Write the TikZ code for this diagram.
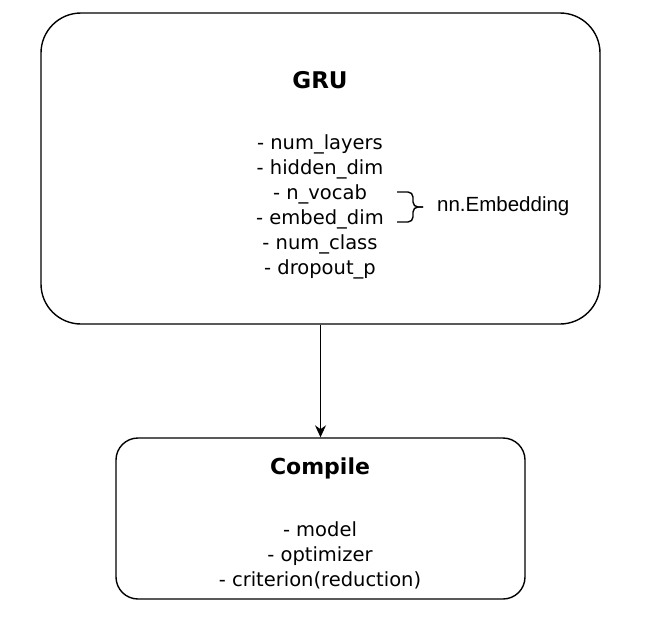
\documentclass[tikz,border=0pt]{standalone}
\usepackage{fontspec}
\setmainfont{DejaVu Sans}
\newfontfamily\labelfont{Liberation Sans}
\usetikzlibrary{arrows.meta}

\begin{document}
\begin{tikzpicture}
[every node/.style={inner sep=0pt}]
\useasboundingbox (0pt, 0pt) rectangle (659pt, -624pt);
\node (gru) [rectangle, rounded corners=40pt, minimum width=559pt, minimum height=311pt, line width=1.4pt, draw=black] at (320.5pt, -168.5pt) {};
\node (gruTitle) at (320pt, -80pt) {\fontsize{23pt}{27pt}\selectfont\bfseries GRU};
\node (gruParams) [align=center, font=\fontsize{19.5pt}{25pt}\selectfont] at (320pt, -207pt) {- num\_layers\\- hidden\_dim\\- n\_vocab\\- embed\_dim\\- num\_class\\- dropout\_p};
% curly bracket for the embedding params
\coordinate (braceTop) at (397pt, -192pt);
\coordinate (braceBot) at (397pt, -222pt);
\coordinate (braceTip) at (423pt, -207pt);
\draw [line width=1.4pt, rounded corners=5pt] (braceTop) -- (413pt, -192pt) -- (413pt, -207pt) -- (braceTip);
\draw [line width=1.4pt, rounded corners=5pt] (braceBot) -- (413pt, -222pt) -- (413pt, -207pt) -- (braceTip);
\node (embed) [anchor=west, font=\labelfont\fontsize{20.5pt}{24pt}\selectfont] at (437pt, -206pt) {nn.Embedding};
\node (compile) [rectangle, rounded corners=22pt, minimum width=409pt, minimum height=161pt, line width=1.4pt, draw=black] at (320.5pt, -518.5pt) {};
\node (compileTitle) at (320pt, -468pt) {\fontsize{22pt}{26pt}\selectfont\bfseries Compile};
\node (compileParams) [align=center, font=\fontsize{19.5pt}{25pt}\selectfont] at (320pt, -555pt) {- model\\- optimizer\\- criterion(reduction)};
\draw [line width=1.4pt, -{Stealth[length=12pt, width=11pt]}, color=black] (gru) to (compile);
\end{tikzpicture}
\end{document}
